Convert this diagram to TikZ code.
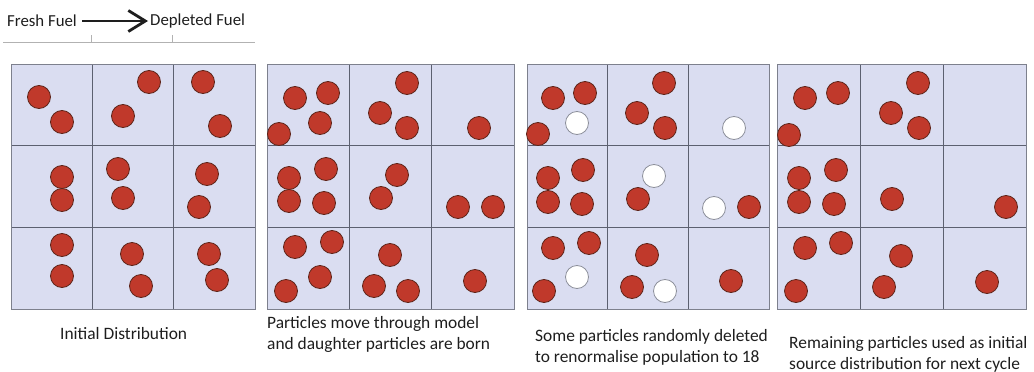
\documentclass[tikz,border=0pt]{standalone}
\usepackage{fontspec}
\setmainfont{Carlito}
\usetikzlibrary{arrows.meta, positioning}
\definecolor{cellbg}{HTML}{DADDF1}
\definecolor{gridline}{HTML}{5C6070}
\definecolor{particle}{HTML}{C0392B}
\definecolor{rim}{HTML}{5E2419}
\definecolor{ink}{HTML}{1E1E1E}

\tikzset{
  live/.style={fill=particle, draw=rim, line width=0.8pt},
  dead/.style={fill=white, draw=gridline!70, line width=0.8pt},
  caption/.style={font=\fontsize{17.4}{21}\selectfont, text=ink, align=left, anchor=west, inner sep=0pt}
}

\begin{document}
\begin{tikzpicture}[x=1pt, y=-1pt]
  \useasboundingbox (0,0) rectangle (1034,372);
  % Legend
  \node[caption, font=\fontsize{16.8}{20}\selectfont] (fresh) at (7,21) {Fresh Fuel};
  \node[caption, font=\fontsize{16.8}{20}\selectfont] (depleted) at (150,21) {Depleted Fuel};
  \draw[ink, line width=2.8pt, -{Straight Barb[length=17pt,width=21pt]}, shorten <=5pt, shorten >=2pt] (fresh) -- (depleted);
  \draw[gray!60, line width=0.8pt] (3,42) -- (255,42);
  \draw[gray!60, line width=0.6pt] (91,35) -- (91,42) (172,35) -- (172,42);
  % Panels (3x3 cells each)
  \foreach \px/\pw in {11/244, 267/247, 527/242, 777/249} {
    \fill[cellbg] (\px,64) rectangle ++(\pw,245);
    \draw[gridline, line width=0.7pt] ({\px+\pw/3},64) -- ++(0,245) ({\px+2*\pw/3},64) -- ++(0,245)
      (\px,145.7) -- ++(\pw,0) (\px,227.3) -- ++(\pw,0);
    \draw[gridline!80, line width=0.7pt] (\px,64) rectangle ++(\pw,245);
  }
  % Initial distribution: 18 particles
  \foreach \cx/\cy in {39/97, 62/122, 149/82, 123/116, 203/82, 220/126,
      62/177, 62/200, 118/169, 123/198, 207/174, 199/207,
      62/245, 62/276, 132/254, 141/286, 209/254, 217/280}
    \draw[live] (\cx,\cy) circle[radius=11.5];
  % After transport: 24 particles
  \foreach \cx/\cy in {295/98, 328/93, 320/123, 279/134, 407/83, 380/113, 407/128, 479/128,
      289/178, 326/169, 289/201, 324/203, 397/175, 381/198, 458/207, 493/207,
      295/247, 332/242, 320/277, 286/291, 390/255, 374/286, 408/291, 475/281}
    \draw[live] (\cx,\cy) circle[radius=11.5];
  % Russian roulette: 6 deleted
  \foreach \cx/\cy in {553/98, 585/93, 538/134, 664/83, 637/113, 665/128,
      548/178, 583/170, 548/202, 582/204, 638/199, 749/207,
      553/248, 589/243, 544/291, 647/255, 632/287, 731/281}
    \draw[live] (\cx,\cy) circle[radius=11.5];
  \foreach \cx/\cy in {577/123, 734/128, 654/176, 714/208, 577/277, 665/291}
    \draw[dead] (\cx,\cy) circle[radius=11.5];
  % Next cycle source
  \foreach \cx/\cy in {805/98, 838/93, 789/135, 918/83, 891/113, 919/128,
      799/178, 836/170, 799/202, 834/204, 892/199, 1006/207,
      805/248, 841/243, 796/291, 901/256, 884/287, 987/282}
    \draw[live] (\cx,\cy) circle[radius=11.5];
  % Captions
  \node[caption] (cap1) at (60,334) {Initial Distribution};
  \node[caption] (cap2) at (267,334) {Particles move through model\\and daughter particles are born};
  \node[caption] (cap3) at (535,347) {Some particles randomly deleted\\to renormalise population to 18};
  \node[caption] (cap4) at (789,354) {Remaining particles used as initial\\source distribution for next cycle};
\end{tikzpicture}
\end{document}
